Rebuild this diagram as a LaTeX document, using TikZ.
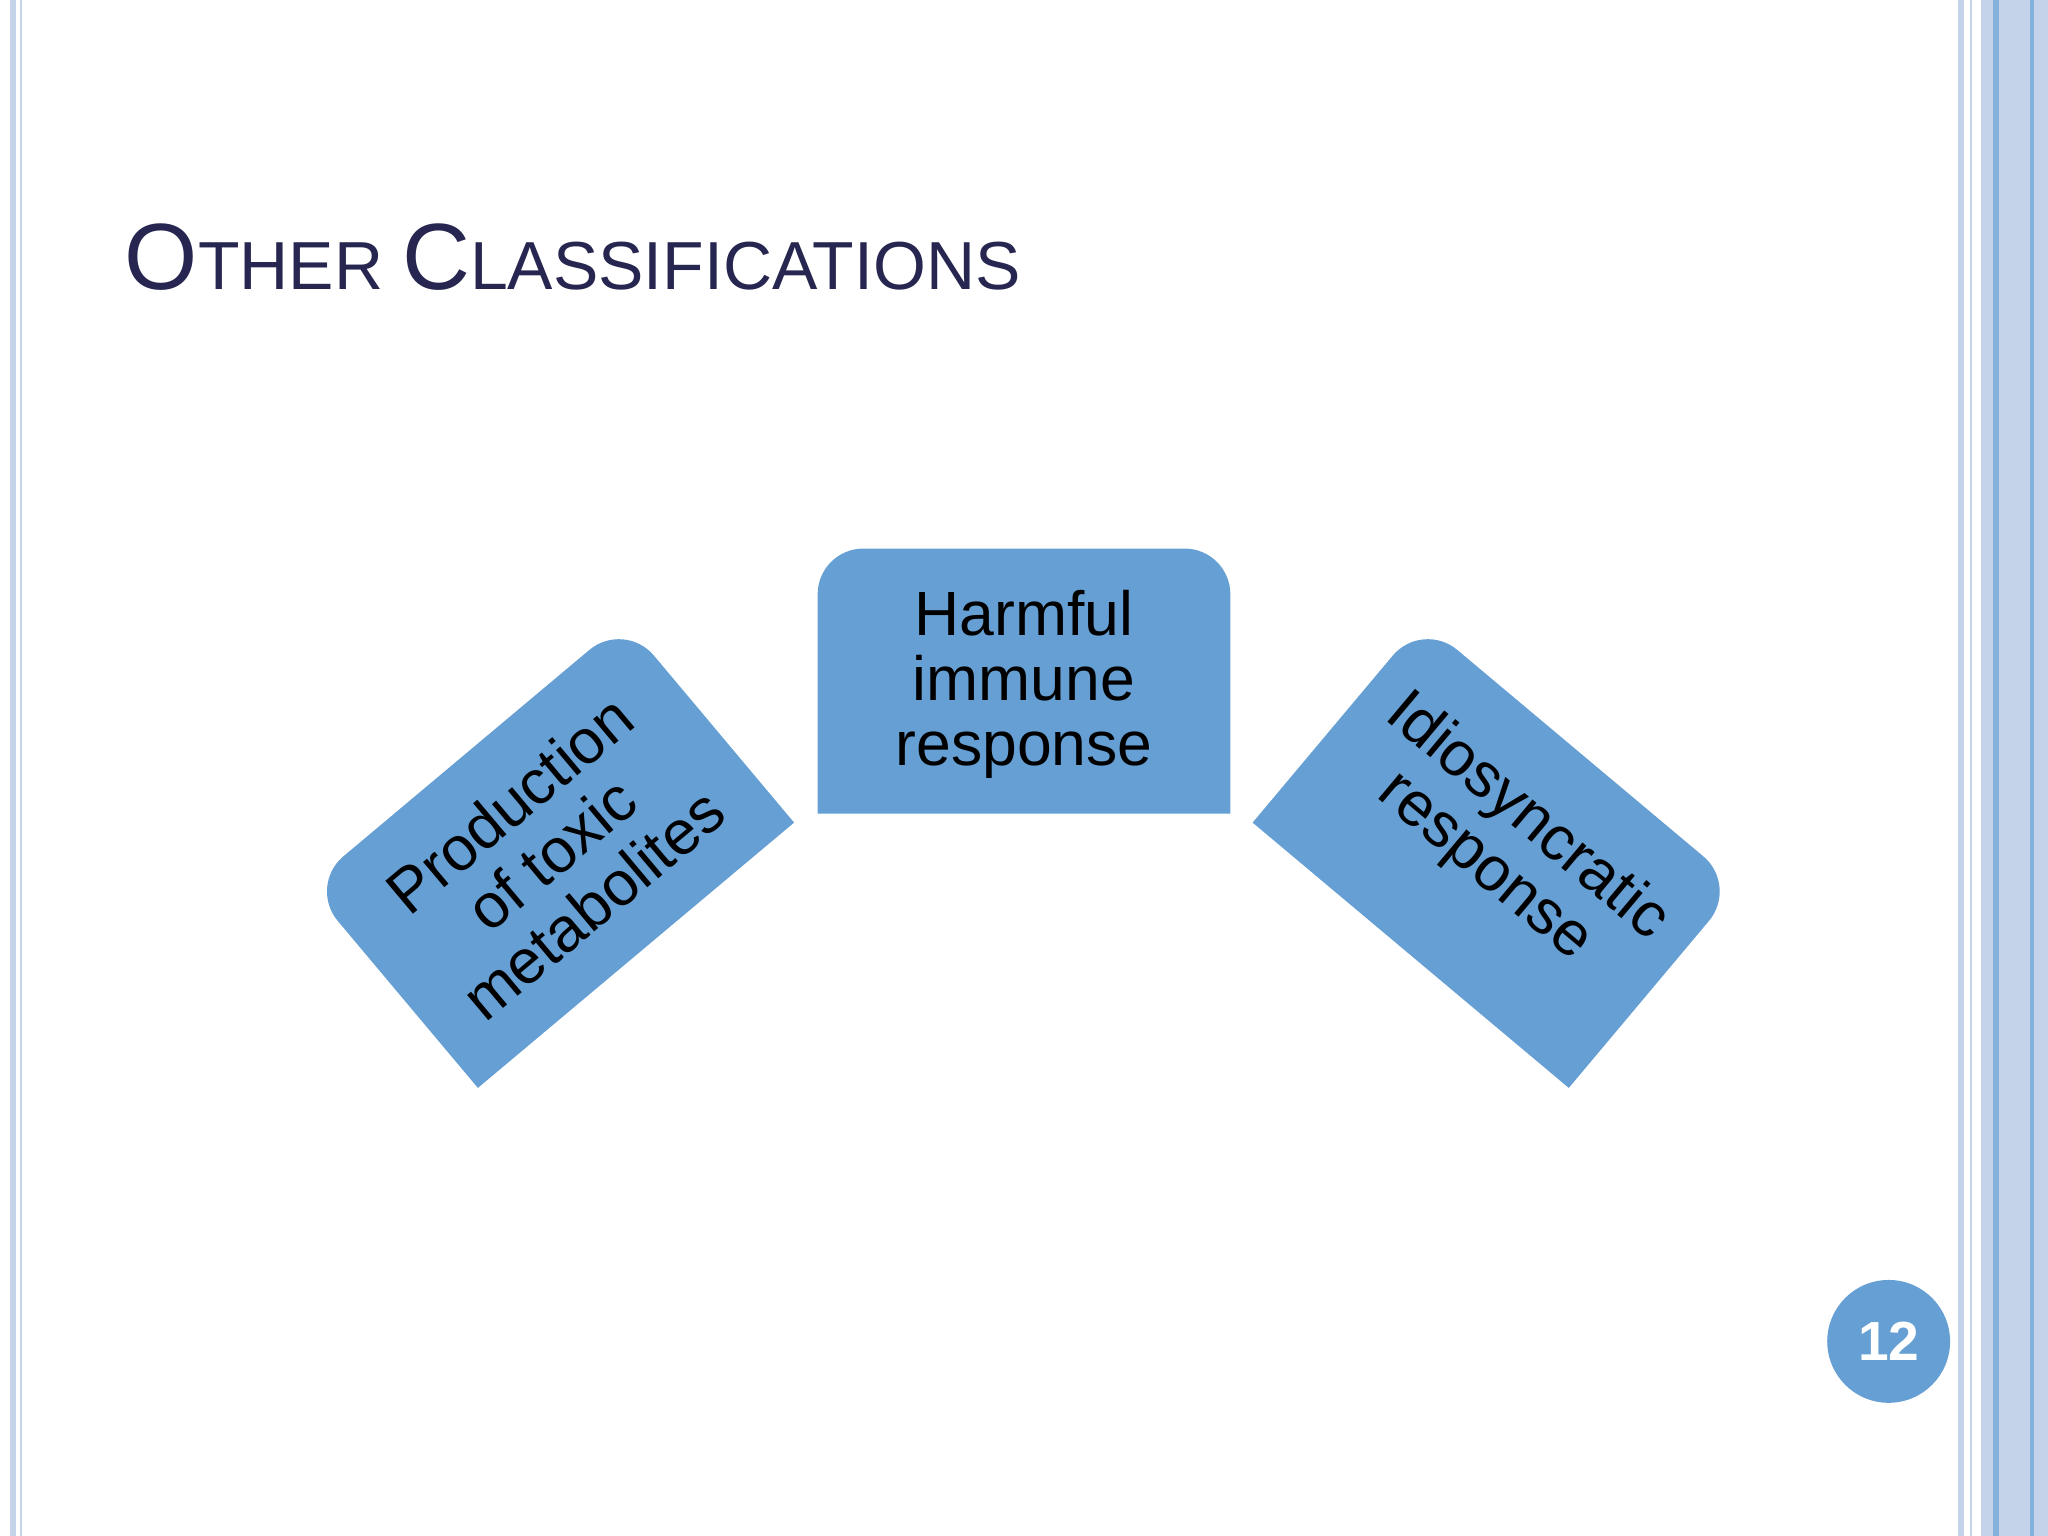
\documentclass[tikz,border=0pt]{standalone}
\usepackage{fontspec}
\setmainfont{Liberation Sans}
\definecolor{boxblue}{HTML}{659FD3}
\definecolor{edge}{HTML}{C5D3EA}
\definecolor{navy}{HTML}{262650}
\begin{document}
\begin{tikzpicture}[x=0.01cm,y=-0.01cm,
  btxt/.style={align=center,font=\fontsize{13.6}{14.2}\selectfont,text=black}]
\useasboundingbox (0,0) rectangle (1568,1176);
\fill[white] (0,0) rectangle (1568,1176);
% borders
\fill[edge] (8,0) rectangle (12,1176);
\fill[edge] (15,0) rectangle (17,1176);
\fill[edge] (1499,0) rectangle (1504,1176);
\fill[edge] (1508,0) rectangle (1510,1176);
\fill[edge] (1517,0) rectangle (1568,1176);
\draw[boxblue!80,line width=1.2pt] (1528,0) -- (1528,1176);
\draw[boxblue!80,line width=0.8pt] (1556,0) -- (1556,1176);
% title
\node[anchor=base west,inner sep=0,text=navy] (title) at (95,222)
 {\fontsize{20.5}{21}\selectfont O\fontsize{14.8}{15}\selectfont THER \fontsize{20.5}{21}\selectfont C\fontsize{14.8}{15}\selectfont LASSIFICATIONS};
% center box
\fill[boxblue] (942,623) -- (626,623) [rounded corners=0.35cm] -- (626,420) -- (942,420) [sharp corners] -- (942,623) -- cycle;
\node[btxt] (c) at (784,524) {Harmful\\immune\\response};
% left box
\begin{scope}[shift={(422,654)},rotate=40]
\fill[boxblue] (158,101) -- (-158,101) [rounded corners=0.35cm] -- (-158,-101) -- (158,-101) [sharp corners] -- (158,101) -- cycle;
\node[btxt,rotate=40] (l) at (0,0) {Production\\of toxic\\metabolites};
\end{scope}
% right box
\begin{scope}[shift={(1145,654)},rotate=-40]
\fill[boxblue] (158,101) -- (-158,101) [rounded corners=0.35cm] -- (-158,-101) -- (158,-101) [sharp corners] -- (158,101) -- cycle;
\node[btxt,rotate=-40] (r) at (0,-12) {Idiosyncratic\\response};
\end{scope}
% page number
\node[circle,fill=boxblue,minimum size=0.94cm,inner sep=0,text=white,font=\bfseries\fontsize{12}{12}\selectfont] (pg) at (1446,1027) {12};
\end{tikzpicture}
\end{document}
